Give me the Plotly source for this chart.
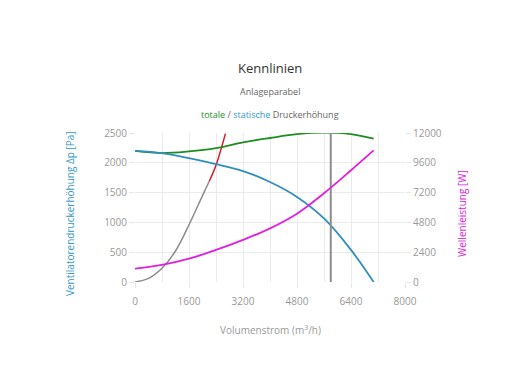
import plotly.graph_objects as go

# Data
q_static = [0, 800, 1600, 2400, 3200, 4000, 4800, 5600, 6400, 7070]
p_static = [2200, 2163, 2079, 1978, 1861, 1678, 1428, 1067, 539, 0]

q_total = [0, 800, 1600, 2400, 3200, 4000, 4800, 5600, 6400, 7070]
p_total = [2200, 2163, 2191, 2247, 2343, 2416, 2480, 2505, 2480, 2404]

q_power = [0, 800, 1600, 2400, 3200, 4000, 4800, 5600, 6400, 7070]
w_power = [1080, 1380, 1880, 2580, 3390, 4320, 5500, 7150, 9000, 10600]

q_system = [0, 400, 800, 1200, 1600, 2000, 2200]
p_system = [0, 60, 230, 520, 960, 1450, 1690]

q_system_red = [2200, 2400, 2680]
p_system_red = [1690, 1960, 2490]

q_operating = [5800, 5800]
p_operating = [0, 2500]

x_ticks = [0, 1600, 3200, 4800, 6400, 8000]
x_tick_labels = ["0", "1600", "3200", "4800", "6400", "8000"]

GREEN = "#1e8c1e"
BLUE = "#2f8fbf"
MAGENTA = "#e020e0"
GRAY = "#8c8c8c"
RED = "#d01c2c"
FONT = "Open Sans"

fig = go.Figure()
fig.add_trace(go.Scatter(x=q_system, y=p_system, mode="lines", line=dict(color=GRAY, width=1.5, shape="spline"), showlegend=False))
fig.add_trace(go.Scatter(x=q_system_red, y=p_system_red, mode="lines", line=dict(color=RED, width=1.5, shape="spline"), showlegend=False))
fig.add_trace(go.Scatter(x=q_total, y=p_total, mode="lines", line=dict(color=GREEN, width=1.8, shape="spline"), showlegend=False))
fig.add_trace(go.Scatter(x=q_static, y=p_static, mode="lines", line=dict(color=BLUE, width=1.8, shape="spline"), showlegend=False))
fig.add_trace(go.Scatter(x=q_operating, y=p_operating, mode="lines", line=dict(color=GRAY, width=2), showlegend=False))
fig.add_trace(go.Scatter(x=q_power, y=w_power, mode="lines", yaxis="y2", line=dict(color=MAGENTA, width=1.8, shape="spline"), showlegend=False))

OFF = 8  # page body margin
W, H = 530 - OFF, 390 - OFF
PL, PR, PT, PB = 135, 405, 133, 282  # target plot area in window pixels

def ypos(py):
    return (PB - py) / (PB - PT)

def xpos(px):
    return (px - PL) / (PR - PL)

fig.update_layout(
    width=W, height=H,
    margin=dict(l=PL - OFF, r=W - (PR - OFF), t=PT - OFF, b=H - (PB - OFF), pad=0),
    paper_bgcolor="white", plot_bgcolor="white",
    font=dict(family=FONT, size=10, color="#999999"),
    xaxis=dict(
        range=[0, 8000], tickmode="array", tickvals=x_ticks, ticktext=x_tick_labels,
        showgrid=True, gridcolor="#ebebeb", gridwidth=1,
        minor=dict(tickmode="linear", tick0=0, dtick=800, showgrid=True, gridcolor="#ebebeb"),
        zeroline=False, showline=False, ticks="outside", ticklen=5, tickcolor="#e6e6e6",
        ticklabelstandoff=5,
        tickfont=dict(size=10, color="#999999"), automargin=False,
    ),
    yaxis=dict(
        range=[0, 2500], dtick=500, showgrid=True, gridcolor="#ebebeb", zeroline=False, showline=False,
        ticks="outside", ticklen=5, tickcolor="#e6e6e6",
        tickfont=dict(size=10, color="#999999"), automargin=False,
    ),
    yaxis2=dict(
        range=[0, 12000], dtick=2400, tickformat="d", overlaying="y", side="right", showgrid=False,
        zeroline=False, showline=False, ticks="outside", ticklen=5, tickcolor="#e6e6e6",
        tickfont=dict(size=10, color="#999999"), automargin=False,
    ),
    annotations=[
        dict(text="Kennlinien", x=0.5, y=ypos(68), xref="paper", yref="paper", showarrow=False,
             yanchor="middle", font=dict(size=13, color="#333333", family=FONT)),
        dict(text="Anlageparabel", x=0.5, y=ypos(91), xref="paper", yref="paper", showarrow=False,
             yanchor="middle", font=dict(size=9, color="#666666", family=FONT)),
        dict(text=f"<span style='color:{GREEN}'>totale</span> / <span style='color:#3399cc'>statische</span> Druckerhöhung",
             x=0.5, y=ypos(114), xref="paper", yref="paper", showarrow=False,
             yanchor="middle", font=dict(size=9, color="#666666", family=FONT)),
        dict(text="Ventilatorendruckerhöhung Δp [Pa]", x=xpos(70), y=ypos(214), xref="paper", yref="paper",
             showarrow=False, textangle=-90, xanchor="center", yanchor="middle",
             font=dict(size=10, color="#3399cc", family=FONT)),
        dict(text="Wellenleistung [W]", x=xpos(462), y=ypos(214), xref="paper", yref="paper",
             showarrow=False, textangle=-90, xanchor="center", yanchor="middle",
             font=dict(size=10, color=MAGENTA, family=FONT)),
        dict(text="Volumenstrom (m<sup>3</sup>/h)", x=0.5, y=ypos(330), xref="paper", yref="paper",
             showarrow=False, xanchor="center", yanchor="middle",
             font=dict(size=10, color="#999999", family=FONT)),
    ],
)

fig.write_html("out.html")
